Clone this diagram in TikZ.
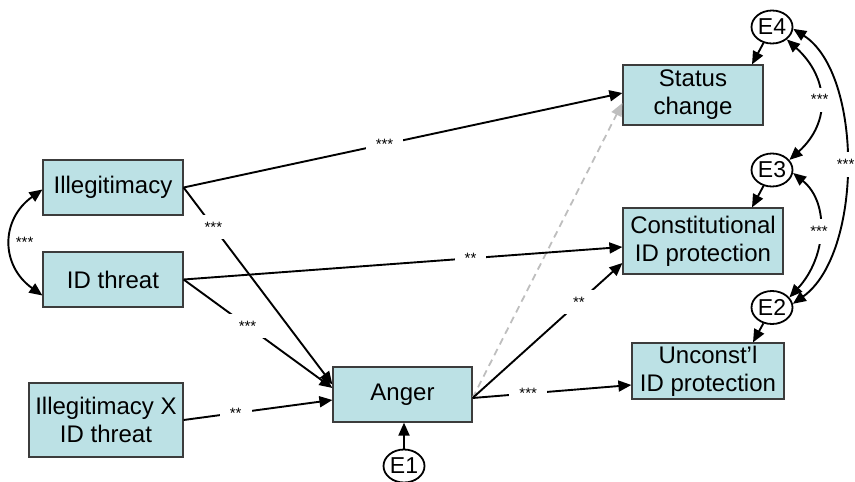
\documentclass[tikz,border=0pt]{standalone}
\usepackage{fontspec}
\setmainfont{Liberation Sans}
\usetikzlibrary{arrows.meta,shapes.geometric}
\definecolor{boxfill}{RGB}{188,225,229}
\definecolor{boxline}{RGB}{60,60,60}
\definecolor{dashgray}{RGB}{190,190,190}
\begin{document}
\begin{tikzpicture}[x=1pt,y=-1pt,
  box/.style={draw=boxline, line width=1.2pt, fill=boxfill, align=center, font=\fontsize{24}{28}\selectfont, inner sep=0pt},
  err/.style={ellipse, draw, line width=1.8pt, fill=white, minimum width=41pt, minimum height=33pt, inner sep=0pt, font=\fontsize{23}{23}\selectfont},
  arr/.style={line width=1.9pt, -{Triangle[length=13pt,width=11pt]}},
  darr/.style={line width=1.9pt, {Triangle[length=13pt,width=11pt]}-{Triangle[length=13pt,width=11pt]}},
  lab/.style={fill=white, font=\fontsize{15}{15}\selectfont, inner xsep=10pt, inner ysep=7pt},
  plainlab/.style={font=\fontsize{15}{15}\selectfont, inner sep=1pt},
]
\useasboundingbox (0,0) rectangle (855,482);

% boxes
\node[box, minimum width=140pt, minimum height=55pt] (ill) at (113,187.5) {Illegitimacy};
\node[box, minimum width=140pt, minimum height=55pt] (idt) at (113,279.5) {ID threat};
\node[box, minimum width=154pt, minimum height=74pt] (ixi) at (106,420) {Illegitimacy X\\ID threat};
\node[box, minimum width=139pt, minimum height=55pt] (ang) at (402.5,394.5) {Anger};
\node[box, minimum width=140pt, minimum height=60pt] (st) at (693,95) {Status\\change};
\node[box, minimum width=160pt, minimum height=66pt] (con) at (703,241) {Constitutional\\ID protection};
\node[box, minimum width=152pt, minimum height=56pt] (unc) at (708,371) {Unconst’l\\ID protection};

% error terms
\node[err] (e4) at (772,27) {E4};
\node[err] (e3) at (772,170) {E3};
\node[err] (e2) at (772,307.5) {E2};
\node[err] (e1) at (404,466) {E1};

% dashed path (drawn first)
\draw[line width=1.8pt, dashgray, dash pattern=on 7pt off 5pt, -{Triangle[length=13pt,width=11pt]}]
  ([yshift=-3.5pt]ang.east) -- ([yshift=-8pt]st.west);

% paths
\draw[arr] (ill.east) -- node[lab, pos=.458] {***} ([yshift=2pt]st.west);
\draw[arr] (ill.east) -- node[lab, pos=.2] {***} ([yshift=10pt]ang.west);
\draw[arr] (idt.east) -- node[lab, pos=.654] {**} ([yshift=-6pt]con.west);
\draw[arr] (idt.east) -- node[lab, pos=.43] {***} ([yshift=6.5pt]ang.west);
\draw[arr] (ixi.east) -- node[lab, pos=.35] {**} ([yshift=-5.5pt]ang.west);
\draw[arr] ([yshift=-3.5pt]ang.east) -- node[lab, pos=.71] {**} ([yshift=-22pt]con.west);
\draw[arr] ([yshift=-3.5pt]ang.east) -- node[lab, pos=.35] {***} ([yshift=-14pt]unc.west);

% error arrows
\draw[arr] (e1) -- (e1 |- ang.south);
\draw[arr] (e4) -- ([xshift=59pt]st.north);
\draw[arr] (e3) -- ([xshift=49pt]con.north);
\draw[arr] (e2) -- ([xshift=45pt]unc.north);

% covariances
\draw[darr] ([yshift=-2pt]ill.west) .. controls +(-42,30) and +(-42,-30) .. node[plainlab, pos=.5, right=3pt] {***} ([yshift=-16pt]idt.west);
\draw[darr] (e4.-40) .. controls +(42,38) and +(42,-38) .. node[lab, pos=.5, inner xsep=3pt] {***} (e3.30);
\draw[darr] (e3.-8) .. controls +(37,30) and +(37,-40) .. node[lab, pos=.5, inner xsep=3pt] {***} (e2.30);
\draw[darr] (e4.-5) .. controls +(70,45) and +(70,-50) .. node[lab, pos=.5, inner xsep=3pt] {***} (e2.10);
\end{tikzpicture}
\end{document}
